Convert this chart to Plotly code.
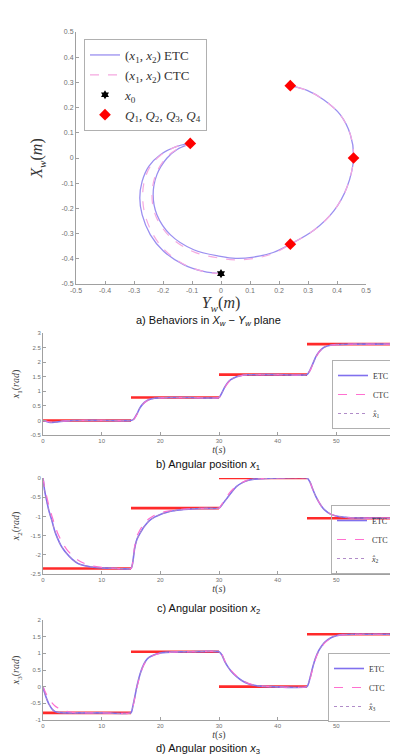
import plotly.graph_objects as go

# ---------------- a) trajectory in Xw - Yw plane ----------------
ETC_YW = [0.0, -0.06, -0.129, -0.198, -0.244, -0.272, -0.28, -0.272, -0.249, -0.209, -0.152, -0.106,
          -0.15, -0.186, -0.221, -0.234, -0.221, -0.175, -0.094, -0.002, 0.05, 0.113, 0.18, 0.239,
          0.32, 0.389, 0.434, 0.457, 0.446, 0.411, 0.354, 0.297, 0.239]
ETC_XW = [-0.459, -0.45, -0.423, -0.37, -0.304, -0.225, -0.159, -0.093, -0.033, 0.013, 0.046, 0.058,
          0.035, 0.0, -0.066, -0.146, -0.225, -0.304, -0.364, -0.39, -0.398, -0.393, -0.375, -0.342,
          -0.287, -0.21, -0.117, 0.0, 0.093, 0.172, 0.231, 0.268, 0.287]
CTC_YW = [0.0, -0.06, -0.128, -0.192, -0.235, -0.262, -0.27, -0.265, -0.245, -0.207, -0.152, -0.106,
          -0.152, -0.19, -0.225, -0.238, -0.225, -0.178, -0.095, -0.002, 0.05, 0.113, 0.18, 0.239,
          0.32, 0.389, 0.434, 0.457, 0.446, 0.411, 0.354, 0.297, 0.239]
CTC_XW = [-0.459, -0.45, -0.422, -0.368, -0.302, -0.225, -0.16, -0.095, -0.035, 0.012, 0.046, 0.058,
          0.035, 0.0, -0.066, -0.148, -0.23, -0.31, -0.372, -0.398, -0.404, -0.399, -0.379, -0.342,
          -0.287, -0.21, -0.117, 0.0, 0.093, 0.172, 0.231, 0.268, 0.287]
X0_YW = [0.0]
X0_XW = [-0.459]
Q_YW = [-0.106, 0.239, 0.457, 0.239]
Q_XW = [0.058, -0.342, 0.0, 0.287]
TICKS_A = [-0.5, -0.4, -0.3, -0.2, -0.1, 0, 0.1, 0.2, 0.3, 0.4, 0.5]
TICKTEXT_A = ["-0.5", "-0.4", "-0.3", "-0.2", "-0.1", "0", "0.1", "0.2", "0.3", "0.4", "0.5"]

# ---------------- reference steps ----------------
STEP_T = [0, 15, 30, 45, 60]
REF_X1 = [0.0, 0.785, 1.571, 2.618]
REF_X2 = [-2.356, -0.785, 0.0, -1.047]
REF_X3 = [-0.785, 1.047, 0.0, 1.571]

# ---------------- b) x1 ----------------
T_X1 = [0, 0.5, 1, 1.5, 2, 2.5, 3, 4, 5, 7, 10, 15,
        15.5, 16, 16.5, 17, 17.5, 18, 19, 20, 22, 25, 30,
        30.5, 31, 31.5, 32, 33, 34, 35, 37, 40, 45,
        45.5, 46, 46.5, 47, 47.5, 48, 49, 50, 52, 55, 60]
X1_ETC = [0, -0.03, -0.06, -0.07, -0.065, -0.05, -0.035, -0.015, -0.005, 0, 0, 0,
          0.05, 0.22, 0.42, 0.56, 0.65, 0.71, 0.76, 0.78, 0.785, 0.785, 0.785,
          0.95, 1.15, 1.3, 1.4, 1.5, 1.55, 1.565, 1.571, 1.571, 1.571,
          1.72, 1.95, 2.18, 2.34, 2.45, 2.52, 2.58, 2.605, 2.615, 2.618, 2.618]
X1_CTC = [0, -0.02, -0.045, -0.055, -0.055, -0.045, -0.03, -0.015, -0.005, 0, 0, 0,
          0.04, 0.2, 0.4, 0.55, 0.64, 0.7, 0.755, 0.775, 0.785, 0.785, 0.785,
          0.93, 1.13, 1.28, 1.39, 1.49, 1.545, 1.565, 1.571, 1.571, 1.571,
          1.7, 1.93, 2.16, 2.33, 2.44, 2.51, 2.575, 2.6, 2.615, 2.618, 2.618]
X1_HAT = X1_ETC

# ---------------- c) x2 ----------------
T_X2 = [0, 0.25, 0.5, 0.75, 1, 1.5, 2, 2.5, 3, 3.5, 4, 5, 6, 7, 8, 10, 12, 15,
        15.3, 15.6, 16, 16.5, 17, 17.5, 18, 19, 20, 21, 22, 24, 26, 28, 30,
        30.5, 31, 31.5, 32, 33, 34, 35, 36, 38, 40, 45,
        45.5, 46, 46.5, 47, 47.5, 48, 49, 50, 52, 55, 60]
X2_ETC = [0, -0.3, -0.5, -0.68, -0.85, -1.1, -1.38, -1.58, -1.74, -1.86, -1.96, -2.12, -2.23, -2.28, -2.31, -2.34, -2.35, -2.356,
          -2.2, -1.85, -1.6, -1.45, -1.32, -1.22, -1.13, -1.02, -0.95, -0.9, -0.86, -0.82, -0.8, -0.79, -0.785,
          -0.7, -0.6, -0.5, -0.4, -0.22, -0.12, -0.06, -0.03, -0.01, 0, 0,
          -0.1, -0.3, -0.48, -0.62, -0.74, -0.83, -0.94, -0.99, -1.03, -1.045, -1.047]
X2_CTC = [0, -0.22, -0.4, -0.56, -0.72, -0.98, -1.22, -1.44, -1.6, -1.74, -1.85, -2.02, -2.14, -2.22, -2.28, -2.33, -2.35, -2.356,
          -2.2, -1.8, -1.52, -1.36, -1.24, -1.14, -1.07, -0.97, -0.91, -0.87, -0.84, -0.81, -0.795, -0.788, -0.785,
          -0.68, -0.56, -0.45, -0.35, -0.2, -0.11, -0.05, -0.025, -0.008, 0, 0,
          -0.1, -0.3, -0.48, -0.62, -0.74, -0.83, -0.94, -0.99, -1.03, -1.045, -1.047]
X2_HAT = X2_ETC

# ---------------- d) x3 ----------------
T_X3 = [0, 0.25, 0.5, 0.75, 1, 1.5, 2, 2.5, 3, 4, 5, 6, 8, 10, 15,
        15.3, 15.6, 16, 16.5, 17, 17.5, 18, 19, 20, 21, 23, 25, 30,
        30.5, 31, 31.5, 32, 33, 34, 35, 36, 37, 39, 45,
        45.5, 46, 46.5, 47, 47.5, 48, 49, 50, 51, 53, 60]
X3_ETC = [0, -0.17, -0.3, -0.42, -0.52, -0.66, -0.74, -0.77, -0.78, -0.785, -0.785, -0.785, -0.785, -0.785, -0.785,
          -0.6, -0.35, 0.0, 0.35, 0.6, 0.77, 0.87, 0.96, 1.01, 1.03, 1.045, 1.047, 1.047,
          0.95, 0.75, 0.6, 0.48, 0.3, 0.17, 0.09, 0.04, 0.015, 0.0, 0.0,
          0.25, 0.6, 0.88, 1.08, 1.22, 1.33, 1.46, 1.53, 1.56, 1.571, 1.571]
X3_CTC = [0, -0.1, -0.2, -0.28, -0.36, -0.48, -0.57, -0.63, -0.68, -0.74, -0.77, -0.78, -0.785, -0.785, -0.785,
          -0.62, -0.38, -0.03, 0.32, 0.58, 0.75, 0.86, 0.95, 1.0, 1.025, 1.043, 1.047, 1.047,
          0.96, 0.77, 0.62, 0.5, 0.32, 0.18, 0.1, 0.05, 0.02, 0.0, 0.0,
          0.22, 0.56, 0.85, 1.06, 1.2, 1.31, 1.45, 1.52, 1.555, 1.571, 1.571]
X3_HAT = X3_ETC

TICKS_B = [-0.5, 0, 0.5, 1, 1.5, 2, 2.5, 3]
TICKTEXT_B = ["-0.5", "0", "0.5", "1", "1.5", "2", "2.5", "3"]
TICKS_C = [-2.5, -2, -1.5, -1, -0.5, 0]
TICKTEXT_C = ["-2.5", "-2", "-1.5", "-1", "-0.5", "0"]
TICKS_D = [-1, -0.5, 0, 0.5, 1, 1.5, 2]
TICKTEXT_D = ["-1", "-0.5", "0", "0.5", "1", "1.5", "2"]
TICKS_T = [0, 10, 20, 30, 40, 50, 60]

# ---------------- styling ----------------
W, H = 398, 756
C_ETC = "#8070ee"
C_CTC = "#ff70d0"
C_REF = "#ff2a2a"
C_HAT = "#b08cc8"
SERIF = "Liberation Serif"
SANS = "Liberation Sans"


def px_x(p):
    return p / W


def px_y(p):
    return 1 - p / H


fig = go.Figure()

# a)
fig.add_trace(go.Scatter(x=ETC_YW, y=ETC_XW, mode="lines", line=dict(color="#9a8ff0", width=1.3, shape="spline", smoothing=1.0),
                         name="(<i>x</i><sub>1</sub>, <i>x</i><sub>2</sub>) ETC", xaxis="x", yaxis="y", legend="legend"))
fig.add_trace(go.Scatter(x=CTC_YW, y=CTC_XW, mode="lines", line=dict(color="#f5a8e0", width=1.2, dash="dash", shape="spline", smoothing=1.0),
                         name="(<i>x</i><sub>1</sub>, <i>x</i><sub>2</sub>) CTC", xaxis="x", yaxis="y", legend="legend"))
fig.add_trace(go.Scatter(x=X0_YW, y=X0_XW, mode="markers", marker=dict(symbol="hexagram", size=7, color="black"),
                         name="<i>x</i><sub>0</sub>", xaxis="x", yaxis="y", legend="legend"))
fig.add_trace(go.Scatter(x=Q_YW, y=Q_XW, mode="markers", marker=dict(symbol="diamond", size=9, color="#ff0000"),
                         name="<i>Q</i><sub>1</sub>, <i>Q</i><sub>2</sub>, <i>Q</i><sub>3</sub>, <i>Q</i><sub>4</sub>",
                         xaxis="x", yaxis="y", legend="legend"))


def ref_segments(levels):
    xs, ys = [], []
    for i, lv in enumerate(levels):
        xs += [STEP_T[i], STEP_T[i + 1], None]
        ys += [lv, lv, None]
    return xs, ys


panels = [
    ("2", T_X1, X1_ETC, X1_CTC, X1_HAT, REF_X1, "legend2", "1"),
    ("3", T_X2, X2_ETC, X2_CTC, X2_HAT, REF_X2, "legend3", "2"),
    ("4", T_X3, X3_ETC, X3_CTC, X3_HAT, REF_X3, "legend4", "3"),
]
for ax, t, etc, ctc, hat, ref, leg, idx in panels:
    rx, ry = ref_segments(ref)
    fig.add_trace(go.Scatter(x=rx, y=ry, mode="lines", line=dict(color=C_REF, width=2.6), showlegend=False,
                             xaxis="x" + ax, yaxis="y" + ax))
    fig.add_trace(go.Scatter(x=t, y=etc, mode="lines", line=dict(color=C_ETC, width=1.6, shape="spline", smoothing=0.5),
                             name="ETC", xaxis="x" + ax, yaxis="y" + ax, legend=leg))
    fig.add_trace(go.Scatter(x=t, y=ctc, mode="lines", line=dict(color=C_CTC, width=1.2, dash="dash", shape="spline", smoothing=0.5),
                             name="CTC", xaxis="x" + ax, yaxis="y" + ax, legend=leg))
    fig.add_trace(go.Scatter(x=t, y=hat, mode="lines", line=dict(color=C_HAT, width=1, dash="dot", shape="spline", smoothing=0.5),
                             name="<i>x̂</i><sub>" + idx + "</sub>", xaxis="x" + ax, yaxis="y" + ax, legend=leg))

tick_font = dict(family=SANS, size=6, color="#707070")
base = dict(showgrid=False, zeroline=False, showline=True, linecolor="#a0a0a0", linewidth=1,
            ticks="inside", ticklen=3, tickcolor="#a0a0a0", tickfont=tick_font, automargin=False, fixedrange=True)

layout_axes = dict(
    xaxis=dict(base, domain=[px_x(68), px_x(358)], range=[-0.5, 0.5], anchor="y",
               tickvals=TICKS_A, ticktext=TICKTEXT_A, tickfont=dict(family=SANS, size=7, color="#707070"),
               title=dict(text="<i>Y<sub>w</sub></i>(<i>m</i>)", font=dict(family=SERIF, size=16, color="#333"), standoff=2)),
    yaxis=dict(base, domain=[px_y(276), px_y(24)], range=[-0.5, 0.5], anchor="x",
               tickvals=TICKS_A, ticktext=TICKTEXT_A, tickfont=dict(family=SANS, size=7, color="#707070"),
               title=dict(text="<i>X<sub>w</sub></i>(<i>m</i>)", font=dict(family=SERIF, size=16, color="#333"), standoff=14)),
)
pan_dom = {"2": (325, 427, TICKS_B, TICKTEXT_B, [-0.5, 3], "1"),
           "3": (470, 566, TICKS_C, TICKTEXT_C, [-2.5, 0], "2"),
           "4": (612, 712, TICKS_D, TICKTEXT_D, [-1, 2], "3")}
for ax, (top, bot, tv, tt, rng, idx) in pan_dom.items():
    layout_axes["xaxis" + ax] = dict(base, domain=[px_x(35), px_x(387)], range=[0, 60], anchor="y" + ax,
                                     tickvals=TICKS_T, ticktext=[str(v) for v in TICKS_T],
                                     title=dict(text="<i>t</i>(<i>s</i>)", font=dict(family=SERIF, size=10, color="#444"), standoff=1))
    layout_axes["yaxis" + ax] = dict(base, domain=[px_y(bot), px_y(top)], range=rng, anchor="x" + ax,
                                     tickvals=tv, ticktext=tt,
                                     title=dict(text="<i>x</i><sub>" + idx + "</sub>(<i>rad</i>)", font=dict(family=SERIF, size=10, color="#444"), standoff=8))

leg_common = dict(bgcolor="white", bordercolor="#b0b0b0", borderwidth=1, tracegroupgap=0)
captions = [
    (313, "a) Behaviors in <i>X<sub>w</sub></i> − <i>Y<sub>w</sub></i> plane"),
    (457, "b) Angular position <i>x</i><sub>1</sub>"),
    (601, "c) Angular position <i>x</i><sub>2</sub>"),
    (741, "d) Angular position <i>x</i><sub>3</sub>"),
]
annotations = [dict(text=txt, x=0.503, y=px_y(yc), xref="paper", yref="paper", xanchor="center", yanchor="middle",
                    showarrow=False, font=dict(family=SANS, size=11, color="#111")) for yc, txt in captions]

fig.update_layout(
    width=W, height=H, margin=dict(l=0, r=0, t=0, b=0),
    paper_bgcolor="white", plot_bgcolor="white",
    showlegend=True,
    legend=dict(leg_common, x=px_x(76), y=px_y(31), xanchor="left", yanchor="top",
                font=dict(family=SERIF, size=13, color="#333"), itemwidth=30),
    legend2=dict(leg_common, x=px_x(387), y=px_y(421), xanchor="right", yanchor="bottom",
                 font=dict(family=SERIF, size=8, color="#333"), itemwidth=30),
    legend3=dict(leg_common, x=px_x(386), y=px_y(566), xanchor="right", yanchor="bottom",
                 font=dict(family=SERIF, size=8, color="#333"), itemwidth=30, bgcolor="rgba(255,255,255,0)"),
    legend4=dict(leg_common, x=px_x(383), y=px_y(714), xanchor="right", yanchor="bottom",
                 font=dict(family=SERIF, size=8, color="#333"), itemwidth=30),
    annotations=annotations,
    **layout_axes,
)

fig.write_html("out.html")
